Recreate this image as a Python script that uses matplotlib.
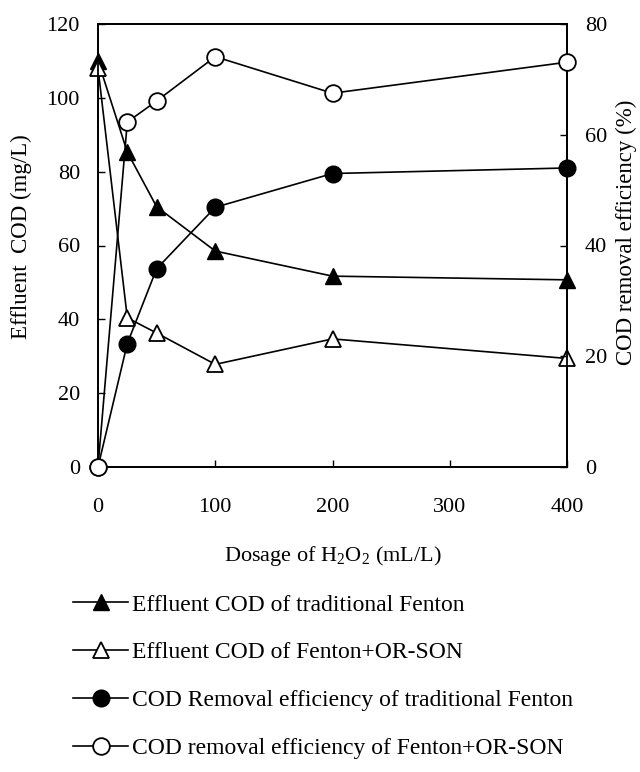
import matplotlib
matplotlib.use("Agg")
import matplotlib.pyplot as plt

# H2O2 dosage (mL/L)
dosage = [0, 25, 50, 100, 200, 400]

# effluent COD (mg/L), left axis
cod_traditional = [110, 85.3, 70.5, 58.5, 51.7, 50.7]
cod_orson = [108, 40.4, 36.3, 27.8, 34.7, 29.4]

# COD removal efficiency (%), right axis
removal_traditional = [0, 22.3, 35.8, 46.9, 53.0, 54.0]
removal_orson = [0, 62.3, 66.1, 74.1, 67.5, 73.1]

labels = [
    "Effluent COD of traditional Fenton",
    "Effluent COD of Fenton+OR-SON",
    "COD Removal efficiency of traditional Fenton",
    "COD removal efficiency of Fenton+OR-SON",
]

plt.rcParams["font.family"] = ["Liberation Serif", "DejaVu Serif"]
plt.rcParams["mathtext.fontset"] = "custom"
plt.rcParams["mathtext.rm"] = "Liberation Serif"
plt.rcParams["mathtext.it"] = "Liberation Serif:italic"

fig = plt.figure(figsize=(6.4, 7.72), dpi=100)
ax1 = fig.add_axes([98 / 640, 1 - 467 / 772, (567 - 98) / 640, (467 - 24) / 772])
ax2 = ax1.twinx()

lw = 1.2
mew = 1.3
h1, = ax1.plot(dosage, cod_traditional, color="black", lw=lw, marker="^", ms=11,
               mfc="black", mec="black", clip_on=False, zorder=3)
h2, = ax1.plot(dosage, cod_orson, color="black", lw=lw, marker="^", ms=11,
               mfc="white", mec="black", mew=mew, clip_on=False, zorder=3)
h3, = ax2.plot(dosage, removal_traditional, color="black", lw=lw, marker="o", ms=12,
               mfc="black", mec="black", clip_on=False, zorder=3)
h4, = ax2.plot(dosage, removal_orson, color="black", lw=lw, marker="o", ms=12,
               mfc="white", mec="black", mew=mew, clip_on=False, zorder=3)

ax1.set_xlim(0, 400)
ax1.set_ylim(0, 120)
ax2.set_ylim(0, 80)
ax1.set_xticks([0, 100, 200, 300, 400])
ax1.set_yticks(range(0, 121, 20))
ax2.set_yticks(range(0, 81, 20))

fs = 16
ax1.tick_params(axis="x", direction="in", length=5, width=1, pad=22, labelsize=fs)
ax1.tick_params(axis="y", direction="in", length=5, width=1, pad=13, labelsize=fs)
ax2.tick_params(axis="y", direction="in", length=5, width=1, pad=13, labelsize=fs)
for ax in (ax1, ax2):
    for s in ax.spines.values():
        s.set_linewidth(1.3)

ax1.set_xlabel(r"Dosage of H$_2$O$_2$ (mL/L)", fontsize=16, labelpad=20)
ax1.set_ylabel("Effluent  COD (mg/L)", fontsize=16.5)
ax1.yaxis.set_label_coords(-0.14, 0.52)
ax2.set_ylabel("COD removal efficiency (%)", fontsize=16.5)
ax2.yaxis.set_label_coords(1.105, 0.53)

fig.legend([h1, h2, h3, h4], labels, loc="upper left", bbox_to_anchor=(73 / 640, 1 - 594 / 772),
           frameon=False, fontsize=17, handlelength=2.35, handletextpad=0.15,
           labelspacing=1.12, borderpad=0, borderaxespad=0)

fig.savefig("out.png", dpi=100)
